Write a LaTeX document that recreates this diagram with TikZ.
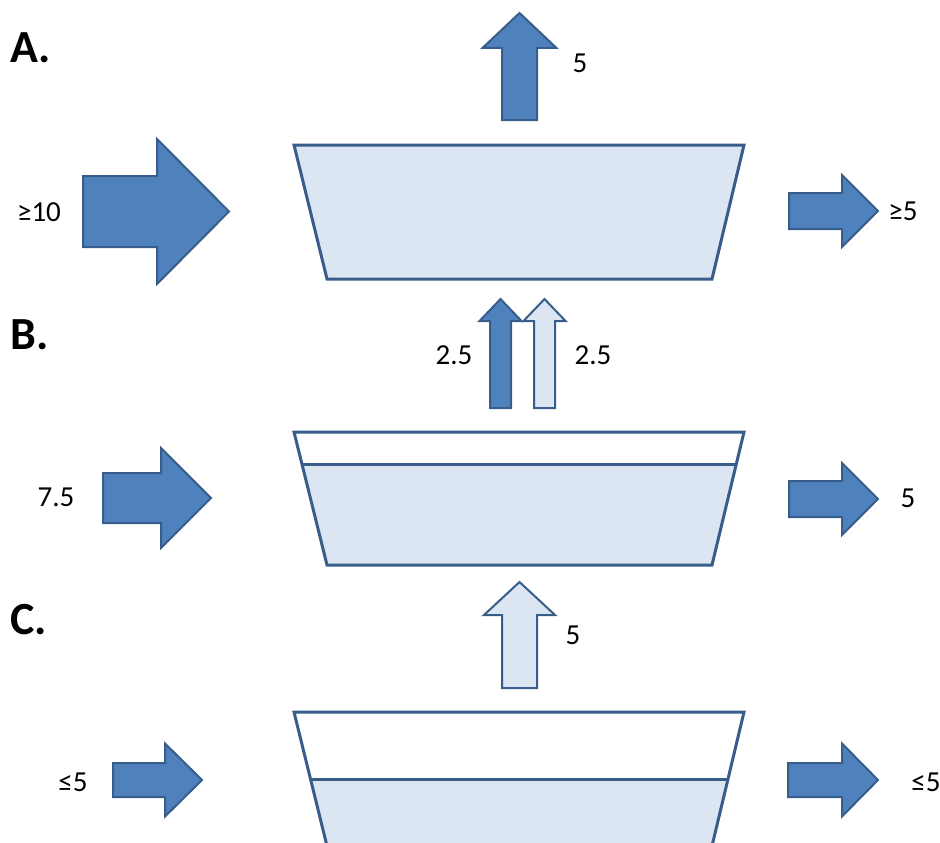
\documentclass[tikz,border=0pt]{standalone}
\usepackage{fontspec}
\setmainfont{Carlito}
\usetikzlibrary{calc}
\definecolor{darkBlue}{HTML}{4F81BD}
\definecolor{edgeBlue}{HTML}{385D8A}
\definecolor{paleBlue}{HTML}{DCE6F2}

\tikzset{
    solidarrow/.style={draw=edgeBlue, fill=darkBlue, line width=2pt, line join=miter},
    hollowarrow/.style={draw=edgeBlue, fill=paleBlue, line width=2pt, line join=miter},
    tank/.style={draw=edgeBlue, line width=3pt, line join=miter},
    flowlabel/.style={font=\fontsize{29}{34}\selectfont, inner sep=0pt},
    panellabel/.style={font=\fontsize{46}{52}\selectfont\bfseries, inner sep=0pt, anchor=west},
}

% #1 style, #2 tail x, #3 head x, #4 tip x, #5 centre y, #6 shaft half, #7 head half
\newcommand{\rightblock}[7]{
    \draw[#1] ({#2},{#5-#6}) -- ({#3},{#5-#6}) -- ({#3},{#5-#7}) -- ({#4},{#5}) -- ({#3},{#5+#7}) -- ({#3},{#5+#6}) -- ({#2},{#5+#6}) -- cycle;
}
% #1 style, #2 centre x, #3 tail y, #4 head y, #5 tip y, #6 shaft half, #7 head half
\newcommand{\upblock}[7]{
    \draw[#1] ({#2-#6},{#3}) -- ({#2-#6},{#4}) -- ({#2-#7},{#4}) -- ({#2},{#5}) -- ({#2+#7},{#4}) -- ({#2+#6},{#4}) -- ({#2+#6},{#3}) -- cycle;
}

\begin{document}
\begin{tikzpicture}[x=1pt, y=-1pt]
    \useasboundingbox (0,0) rectangle (940,843);
    \clip (0,0) rectangle (940,843);

    % A.
    \node (labelA) [panellabel] at (10,48) {A.};
    \draw[tank, fill=paleBlue] (294,145) -- (744,145) -- (712,279) -- (327,279) -- cycle;
    \rightblock{solidarrow}{83}{157}{229}{211.5}{35.5}{72.5}
    \rightblock{solidarrow}{789}{842}{878}{211}{18}{36}
    \upblock{solidarrow}{519.5}{120}{48}{13}{17.5}{37}
    \node (inA) [flowlabel] at (39,212) {≥10};
    \node (outA) [flowlabel] at (903,211) {≥5};
    \node (upA) [flowlabel] at (580,63) {5};

    % B.
    \node (labelB) [panellabel] at (10,335) {B.};
    \coordinate (Btl) at (294,432);
    \coordinate (Btr) at (744,432);
    \coordinate (Bbr) at (712,565);
    \coordinate (Bbl) at (327,565);
    \coordinate (Bml) at ($(Btl)!0.248!(Bbl)$);
    \coordinate (Bmr) at ($(Btr)!0.248!(Bbr)$);
    \fill[paleBlue] (Bml) -- (Bmr) -- (Bbr) -- (Bbl) -- cycle;
    \draw[tank] (Btl) -- (Btr) -- (Bbr) -- (Bbl) -- cycle;
    \draw[tank] (Bml) -- (Bmr);
    \rightblock{solidarrow}{103}{161}{211}{498}{25}{50}
    \rightblock{solidarrow}{789}{842}{878}{499}{18}{36}
    \upblock{solidarrow}{500.5}{408}{321}{299}{10.5}{21}
    \upblock{hollowarrow}{544.5}{408}{321}{299}{10.5}{21}
    \node (inB) [flowlabel] at (56,497) {7.5};
    \node (outB) [flowlabel] at (908,498) {5};
    \node (upBl) [flowlabel] at (454,355) {2.5};
    \node (upBr) [flowlabel] at (593,355) {2.5};

    % C.
    \node (labelC) [panellabel] at (10,620) {C.};
    \coordinate (Ctl) at (294,712);
    \coordinate (Ctr) at (744,712);
    \coordinate (Cbr) at (712,846);
    \coordinate (Cbl) at (327,846);
    \coordinate (Cml) at ($(Ctl)!0.5!(Cbl)$);
    \coordinate (Cmr) at ($(Ctr)!0.5!(Cbr)$);
    \fill[paleBlue] (Cml) -- (Cmr) -- (Cbr) -- (Cbl) -- cycle;
    \draw[tank] (Ctl) -- (Ctr) -- (Cbr) -- (Cbl) -- cycle;
    \draw[tank] (Cml) -- (Cmr);
    \rightblock{solidarrow}{113}{165}{202}{780}{17}{36.5}
    \rightblock{solidarrow}{788}{842}{878}{780}{17}{36.5}
    \upblock{hollowarrow}{519.5}{688}{615}{582}{17.5}{35.5}
    \node (inC) [flowlabel] at (73,782) {≤5};
    \node (outC) [flowlabel] at (926,782) {≤5};
    \node (upC) [flowlabel] at (573,635) {5};
\end{tikzpicture}
\end{document}
